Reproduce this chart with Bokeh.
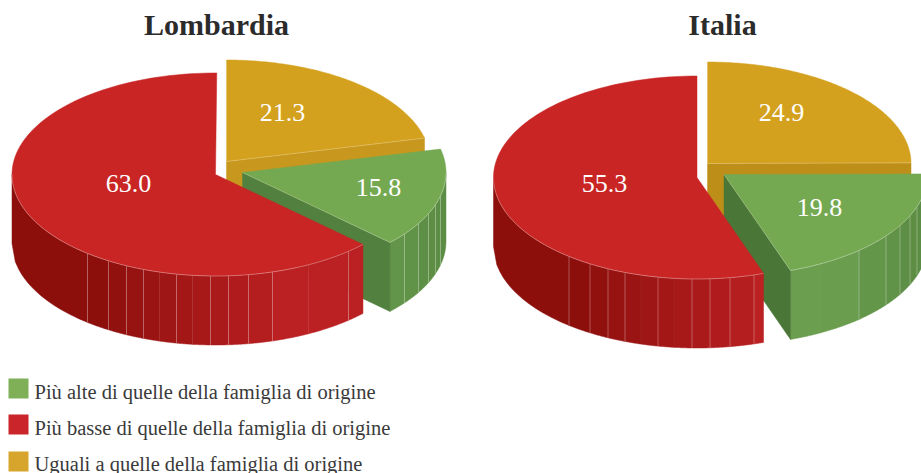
import numpy as np
from bokeh.core.properties import value
from bokeh.embed import file_html
from bokeh.models import Range1d
from bokeh.plotting import figure
from bokeh.resources import INLINE

# ---- data -------------------------------------------------------------
regions = ["Lombardia", "Italia"]
yellow_uguali = [21.3, 24.9]
green_alte = [15.8, 19.8]
red_basse = [63.0, 55.3]
legend_labels = [
    "Più alte di quelle della famiglia di origine",
    "Più basse di quelle della famiglia di origine",
    "Uguali a quelle della famiglia di origine",
]

# ---- layout (page pixels) ---------------------------------------------
W, H = 921, 473
RX, RY, DEPTH = 203.5, 101.5, 69
APEX = [
    {"red": (215, 174), "yellow": (226, 161), "green": (242, 172)},
    {"red": (696.5, 177), "yellow": (707, 163), "green": (723.5, 174)},
]
TITLE_X = [216, 722]
LABEL_POS = [
    {"y": (282, 112), "g": (378, 187), "r": (128, 183)},
    {"y": (781, 112), "g": (819, 207), "r": (604, 183)},
]
YELLOW_FACE = ["#c8981e", "#be8f18"]
GREEN_FACE = ["#52803e", "#4a7637"]
TOP = {"r": "#c92525", "y": "#d4a11e", "g": "#74a952"}
LEG = ["#7fb058", "#c9252b", "#d8a52c"]
FONT = "Liberation Serif"
# strip edges of the wall shading, as offsets from the wedge centre
RED_LINES = [-128, -107, -89, -72, -56, -39, -23, -5, 13, 33, 57, 93, 133]
RED_FAINT = {-56, -23, 93}
GREEN_LINES = [57, 96, 135, 162, 176, 186, 193, 198]
GREEN_FAINT = {57, 96}


def mix(c0, c1, t):
    t = min(max(t, 0.0), 1.0)
    a = [int(c0[i:i + 2], 16) for i in (1, 3, 5)]
    b = [int(c1[i:i + 2], 16) for i in (1, 3, 5)]
    return "#%02x%02x%02x" % tuple(round(x + (y - x) * t) for x, y in zip(a, b))


def rim(ang, c):
    return c[0] + RX * np.sin(ang), c[1] - RY * np.cos(ang)


def front_y(off, cy):
    return cy + RY * np.sqrt(np.clip(1 - (off / RX) ** 2, 0, 1))


p = figure(width=W, height=H, output_backend="svg", toolbar_location=None,
           x_range=Range1d(0, W), y_range=Range1d(H, 0),
           x_axis_type=None, y_axis_type=None, min_border=0, outline_line_color=None)
p.grid.visible = False
p.background_fill_color = "#ffffff"


def top_face(c, a0, a1, color):
    t = np.linspace(a0, a1, 120)
    x, y = rim(t, c)
    p.patch(np.r_[c[0], x], np.r_[c[1], y], fill_color=color, line_color=color, line_width=0.5)


def wall(c, o0, o1, color):
    o = np.linspace(o0, o1, 24)
    y = front_y(o, c[1])
    xs = c[0] + o
    p.patch(np.r_[xs, xs[::-1]], np.r_[y, y[::-1] + DEPTH], fill_color=color, line_color=color, line_width=0.5)


def wall_lines(c, lines, faint, lo, hi):
    for o in lines:
        if lo < o < hi:
            y = front_y(o, c[1])
            p.line([c[0] + o] * 2, [y, y + DEPTH], line_color="#ffffff",
                   line_alpha=0.05 if o in faint else 0.3, line_width=1)


def front_rim(c, a0, a1):
    t = np.linspace(a0, a1, 80)
    x, y = rim(t, c)
    p.line(x, y, line_color="#ffffff", line_alpha=0.4, line_width=0.8)


for i in range(2):
    A = APEX[i]
    ay = np.radians(yellow_uguali[i] * 3.6)
    ag = ay + np.radians(green_alte[i] * 3.6)
    ar_start = ag
    ar_end = ag + np.radians(red_basse[i] * 3.6)

    # yellow: cut face then top
    c = A["yellow"]
    ex, ey = rim(ay, c)
    p.patch([c[0], ex, ex, c[0]], [c[1], ey, ey + DEPTH, c[1] + DEPTH],
            fill_color=YELLOW_FACE[i], line_color=YELLOW_FACE[i], line_width=0.5)
    top_face(c, 0, ay, TOP["y"])
    p.line([c[0], ex], [c[1], ey], line_color="#ffffff", line_alpha=0.3, line_width=0.8)
    p.line([c[0], c[0]], [c[1], c[1] - RY], line_color="#ffffff", line_alpha=0.2, line_width=0.8)

    # green: outer wall, cut face, top
    c = A["green"]
    ex, ey = rim(ag, c)
    lo = RX * np.sin(ag)
    edges = [lo] + [o for o in GREEN_LINES if o > lo] + [RX]
    for o0, o1 in zip(edges[:-1], edges[1:]):
        wall(c, o0, o1, mix("#6b9e4f", "#5c8d44", (o0 - 90) / 100))
    wall_lines(c, GREEN_LINES, GREEN_FAINT, lo, RX)
    p.patch([c[0], ex, ex, c[0]], [c[1], ey, ey + DEPTH, c[1] + DEPTH],
            fill_color=GREEN_FACE[i], line_color=GREEN_FACE[i], line_width=0.5)
    top_face(c, ay, ag, TOP["g"])
    front_rim(c, np.pi / 2, ag)
    p.line([c[0], ex], [c[1], ey], line_color="#ffffff", line_alpha=0.3, line_width=0.8)

    # red: outer wall, top
    c = A["red"]
    hi = RX * np.sin(ar_start)
    edges = [-RX] + [o for o in RED_LINES if o < hi] + [hi]
    for o0, o1 in zip(edges[:-1], edges[1:]):
        wall(c, o0, o1, mix("#8c0f0c", "#bb2022", (o0 + 128) / 185))
    wall_lines(c, RED_LINES, RED_FAINT, -RX, hi)
    top_face(c, ar_start, ar_end, TOP["r"])
    front_rim(c, ar_start, 3 * np.pi / 2)

    # texts
    p.text([TITLE_X[i]], [24], text=[regions[i]], text_align="center", text_baseline="alphabetic",
           text_font=value(FONT), text_font_style="bold", text_font_size="30px", text_color="#2b2b2b")
    vals = {"y": yellow_uguali[i], "g": green_alte[i], "r": red_basse[i]}
    for k, v in vals.items():
        x0, y0 = LABEL_POS[i][k]
        p.text([x0], [y0], text=["%.1f" % v], text_align="center", text_baseline="middle",
               text_font=value(FONT), text_font_size="26px", text_color="#ffffff")

# legend
LEG_Y = [388, 424, 461]
LEG_BASE = [391, 427, 463]
for lab, col, yc, yb in zip(legend_labels, LEG, LEG_Y, LEG_BASE):
    p.rect([18], [yc], width=20, height=20, fill_color=col, line_color=None)
    p.text([34], [yb], text=[lab], text_align="left", text_baseline="alphabetic",
           text_font=value(FONT), text_font_size="20.5px", text_color="#3a3a3a")

open("out.html", "w").write(file_html(p, INLINE))
